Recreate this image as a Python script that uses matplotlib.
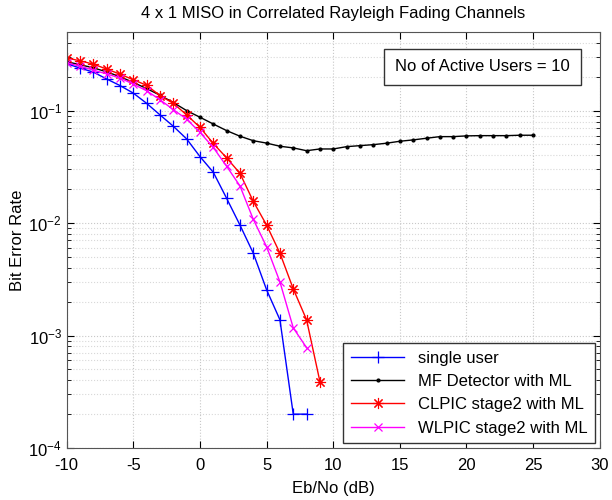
import numpy as np
import matplotlib.pyplot as plt
from matplotlib.ticker import LogLocator, NullFormatter

plt.rcParams['font.family'] = ['Liberation Sans', 'DejaVu Sans']
plt.rcParams['axes.unicode_minus'] = False

# Eb/No axis (dB)
snr_single = list(range(-10, 9))
snr_mf = list(range(-10, 26))
snr_clpic = list(range(-10, 10))
snr_wlpic = list(range(-10, 9))

ber_single = [0.261, 0.239, 0.220, 0.191, 0.167, 0.143, 0.116, 0.0916, 0.0726,
              0.056, 0.039, 0.0283, 0.0166, 0.0096, 0.0054, 0.00255, 0.00138,
              2e-4, 2e-4]
ber_mf = [0.272, 0.256, 0.240, 0.221, 0.200, 0.178, 0.157, 0.137, 0.118, 0.100,
          0.0873, 0.076, 0.0664, 0.0592, 0.054, 0.0514, 0.0482, 0.0466, 0.044,
          0.0456, 0.0456, 0.0478, 0.0488, 0.0498, 0.0513, 0.0534, 0.0549,
          0.0568, 0.0587, 0.0587, 0.0596, 0.0599, 0.0599, 0.0599, 0.0604,
          0.0604]
ber_clpic = [0.294, 0.277, 0.259, 0.234, 0.211, 0.188, 0.168, 0.136, 0.116,
             0.0916, 0.071, 0.051, 0.038, 0.0277, 0.0156, 0.0096, 0.0054,
             0.0026, 0.00138, 3.9e-4]
ber_wlpic = [0.266, 0.248, 0.229, 0.212, 0.195, 0.172, 0.150, 0.125, 0.102,
             0.084, 0.064, 0.047, 0.032, 0.0214, 0.0108, 0.00615, 0.0030,
             0.00117, 7.8e-4]

fig = plt.figure(figsize=(6.12, 5.0), dpi=100)
ax = fig.add_axes([0.109, 0.104, 0.871, 0.832])

ax.semilogy(snr_single, ber_single, color='blue', marker='+', markersize=9,
            markeredgewidth=0.9, linewidth=1, label='single user')
ax.semilogy(snr_mf, ber_mf, color='black', marker='.', markersize=4,
            linewidth=1, label='MF Detector with ML')
ax.semilogy(snr_clpic, ber_clpic, color='red', marker=(8, 2, 0), markersize=8,
            markeredgewidth=0.8, linewidth=1, label='CLPIC stage2 with ML')
ax.semilogy(snr_wlpic, ber_wlpic, color='magenta', marker='x', markersize=6,
            markeredgewidth=0.9, linewidth=1, label='WLPIC stage2 with ML')

ax.set_xlim(-10, 30)
ax.set_ylim(1e-4, 0.5)
ax.set_xticks(range(-10, 31, 5))
ax.yaxis.set_major_locator(LogLocator(base=10, numticks=10))
ax.yaxis.set_minor_locator(LogLocator(base=10, subs=np.arange(2, 10), numticks=20))
ax.yaxis.set_minor_formatter(NullFormatter())

ax.grid(True, which='major', color='#c8c8c8', linestyle=':', linewidth=0.8)
ax.grid(True, which='minor', axis='y', color='#d8d8d8', linestyle=':', linewidth=0.8)
ax.tick_params(which='both', direction='in', top=True, right=True, labelsize=12)
ax.tick_params(which='major', length=5)
ax.tick_params(which='minor', length=3)
ax.tick_params(axis='x', pad=7)
for s in ax.spines.values():
    s.set_color('#555555')

ax.set_title('4 x 1 MISO in Correlated Rayleigh Fading Channels', fontsize=12, pad=10)
ax.set_xlabel('Eb/No (dB)', fontsize=12, labelpad=6)
ax.set_ylabel('Bit Error Rate', fontsize=12)
ax.yaxis.set_label_coords(-0.079, 0.5)

leg = ax.legend(loc='lower right', fontsize=12, fancybox=False, framealpha=1,
                edgecolor='#333333', borderaxespad=0.3, handlelength=3.2,
                labelspacing=0.5, borderpad=0.45)
leg.get_frame().set_linewidth(1)

ax.text(0.78, 0.916, 'No of Active Users = 10', transform=ax.transAxes,
        fontsize=12, ha='center', va='center',
        bbox=dict(boxstyle='square,pad=0.65', facecolor='white', edgecolor='#333333'))

plt.savefig('out.png', dpi=100)
